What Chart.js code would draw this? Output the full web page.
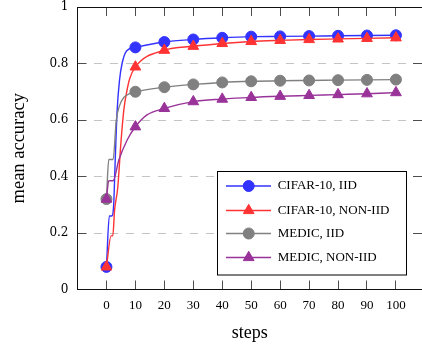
<!DOCTYPE html>
<html><head><meta charset="utf-8">
<script src="https://cdn.jsdelivr.net/npm/chart.js@4/dist/chart.umd.min.js"></script>
<style>html,body{margin:0;padding:0;background:#fff;overflow:hidden}</style>
</head><body>
<canvas id="c" width="422" height="346"></canvas>
<script>
const seriesLabels = ['CIFAR-10, IID', 'CIFAR-10, NON-IID', 'MEDIC, IID', 'MEDIC, NON-IID'];
const seriesColors = ['#3333ff', '#ff3333', '#808080', '#993399'];
const seriesMarkers = ['circle', 'triangle', 'circle', 'triangle'];

const cifarIidSteps = [0, 1, 1.8, 2.5, 3, 3.7, 4.5, 5.4, 7, 10, 20, 30, 40, 50, 60, 70, 80, 90, 100];
const cifarIidAcc   = [0.08, 0.26, 0.26, 0.30, 0.45, 0.635, 0.74, 0.80, 0.845, 0.857, 0.876, 0.885, 0.891, 0.895, 0.896, 0.897, 0.898, 0.899, 0.900];

const cifarNonIidSteps = [0, 1.6, 2.2, 2.8, 3.9, 5, 6, 7, 8, 10, 20, 30, 40, 50, 60, 70, 80, 90, 100];
const cifarNonIidAcc   = [0.08, 0.19, 0.19, 0.28, 0.36, 0.52, 0.635, 0.70, 0.745, 0.788, 0.847, 0.861, 0.871, 0.878, 0.882, 0.885, 0.887, 0.889, 0.891];

const medicIidSteps = [0, 0.8, 2.3, 3.4, 4.5, 6, 8, 10, 20, 30, 40, 50, 60, 70, 80, 90, 100];
const medicIidAcc   = [0.32, 0.46, 0.46, 0.60, 0.65, 0.68, 0.693, 0.70, 0.716, 0.726, 0.733, 0.737, 0.739, 0.740, 0.741, 0.742, 0.743];

const medicNonIidSteps = [0, 0.8, 2.3, 4.3, 7.2, 10, 14, 20, 30, 40, 50, 60, 70, 80, 90, 100];
const medicNonIidAcc   = [0.32, 0.385, 0.385, 0.459, 0.53, 0.576, 0.618, 0.641, 0.665, 0.674, 0.680, 0.684, 0.687, 0.690, 0.693, 0.697];

const markerSteps = [0, 10, 20, 30, 40, 50, 60, 70, 80, 90, 100];
const xTickValues = [0, 10, 20, 30, 40, 50, 60, 70, 80, 90, 100];
const yTickValues = [0, 0.2, 0.4, 0.6, 0.8, 1];
const yTickLabels = ['0', '0.2', '0.4', '0.6', '0.8', '1'];

const stepsList = [cifarIidSteps, cifarNonIidSteps, medicIidSteps, medicNonIidSteps];
const accList = [cifarIidAcc, cifarNonIidAcc, medicIidAcc, medicNonIidAcc];

const TICK_IN = -9;
const TICK_COLOR = '#4d4d4d';
const X_MIN = -10, X_MAX = 109;

function markerRadius(style) { return style === 'triangle' ? 6.2 : 5.5; }

const datasets = seriesLabels.map((label, i) => ({
  label,
  data: stepsList[i].map((s, k) => ({x: s, y: accList[i][k]})),
  borderColor: seriesColors[i],
  backgroundColor: seriesColors[i],
  borderWidth: 1.4,
  pointStyle: seriesMarkers[i],
  pointBorderWidth: 1,
  pointRadius: ctx => markerSteps.includes(ctx.raw && ctx.raw.x) ? markerRadius(seriesMarkers[i]) : 0,
  cubicInterpolationMode: 'monotone',
  clip: false,
  order: 4 - i
}));

const boxLegend = {
  id: 'boxLegend',
  afterDraw(chart) {
    const ctx = chart.ctx;
    const bx = 217.5, by = 171.5, bw = 189, bh = 103.5;
    const rows = [186, 210.5, 233.5, 257.5];
    ctx.save();
    ctx.setLineDash([]);
    ctx.fillStyle = '#fff';
    ctx.fillRect(bx, by, bw, bh);
    ctx.strokeStyle = '#000';
    ctx.lineWidth = 1;
    ctx.strokeRect(bx, by, bw, bh);
    chart.data.datasets.forEach((ds, i) => {
      const yy = rows[i];
      ctx.strokeStyle = ds.borderColor;
      ctx.fillStyle = ds.backgroundColor;
      ctx.lineWidth = 1.4;
      ctx.beginPath(); ctx.moveTo(226, yy); ctx.lineTo(271, yy); ctx.stroke();
      ctx.lineWidth = 1;
      Chart.helpers.drawPoint(ctx, {pointStyle: seriesMarkers[i], radius: markerRadius(seriesMarkers[i]), rotation: 0, borderWidth: 1}, 248.7, yy);
      ctx.fillStyle = '#000';
      ctx.font = '13px "Liberation Serif"';
      ctx.textBaseline = 'middle';
      ctx.textAlign = 'left';
      ctx.fillText(ds.label, 277.7, yy);
    });
    ctx.restore();
  }
};

const setXTicks = s => { s.ticks = xTickValues.map(v => ({value: v})); };
const setYTicks = s => { s.ticks = yTickValues.map(v => ({value: v})); };

new Chart(document.getElementById('c'), {
  type: 'line',
  data: {datasets},
  plugins: [boxLegend],
  options: {
    responsive: false,
    animation: false,
    events: [],
    layout: {autoPadding: false, padding: {top: 7, right: 0, left: 0, bottom: 0}},
    plugins: {legend: {display: false}, tooltip: {enabled: false}},
    scales: {
      x: {
        type: 'linear', position: 'bottom', min: X_MIN, max: X_MAX,
        afterBuildTicks: setXTicks,
        afterFit: s => { s.height = 56.5; s.paddingLeft = 0; s.paddingRight = 0; },
        grid: {display: true, drawOnChartArea: false, drawTicks: true, tickLength: TICK_IN, tickColor: TICK_COLOR, tickWidth: 1},
        border: {display: true, color: '#111', width: 1},
        ticks: {padding: 17, color: '#000', font: {family: '"Liberation Serif"', size: 13}, maxRotation: 0,
                callback: v => String(v)},
        title: {display: true, text: 'steps', color: '#000', font: {family: '"Liberation Serif"', size: 18}, padding: {top: 0, bottom: 2}}
      },
      xTop: {
        type: 'linear', position: 'top', min: X_MIN, max: X_MAX,
        afterBuildTicks: setXTicks,
        afterFit: s => { s.height = 0; s.paddingLeft = 0; s.paddingRight = 0; },
        grid: {display: true, drawOnChartArea: false, drawTicks: true, tickLength: TICK_IN, tickColor: TICK_COLOR, tickWidth: 1},
        border: {display: true, color: '#111', width: 1},
        ticks: {display: false}
      },
      y: {
        type: 'linear', position: 'left', min: 0, max: 1,
        afterBuildTicks: setYTicks,
        afterFit: s => { s.width = 77.5; s.paddingTop = 0; s.paddingBottom = 0; },
        grid: {drawOnChartArea: true, drawTicks: true, tickLength: TICK_IN, tickColor: TICK_COLOR, tickWidth: 1, lineWidth: 1,
               color: c => (c.tick && (c.tick.value === 0 || c.tick.value === 1)) ? 'rgba(0,0,0,0)' : '#c4c4c4'},
        border: {display: true, color: '#111', width: 1, dash: [8, 8]},
        ticks: {padding: 18, color: '#000', font: {family: '"DejaVu Serif"', size: 12},
                callback: (v, idx) => yTickLabels[idx]},
        title: {display: true, text: 'mean accuracy', color: '#000', font: {family: '"Liberation Serif"', size: 18.5}, padding: {top: 8, bottom: 0}}
      },
      yRight: {
        type: 'linear', position: 'right', min: 0, max: 1,
        afterBuildTicks: setYTicks,
        afterFit: s => { s.width = 0; s.paddingTop = 0; s.paddingBottom = 0; },
        grid: {display: true, drawOnChartArea: false, drawTicks: true, tickLength: TICK_IN, tickColor: TICK_COLOR, tickWidth: 1},
        border: {display: false},
        ticks: {display: false}
      }
    }
  }
});
</script>
</body></html>
